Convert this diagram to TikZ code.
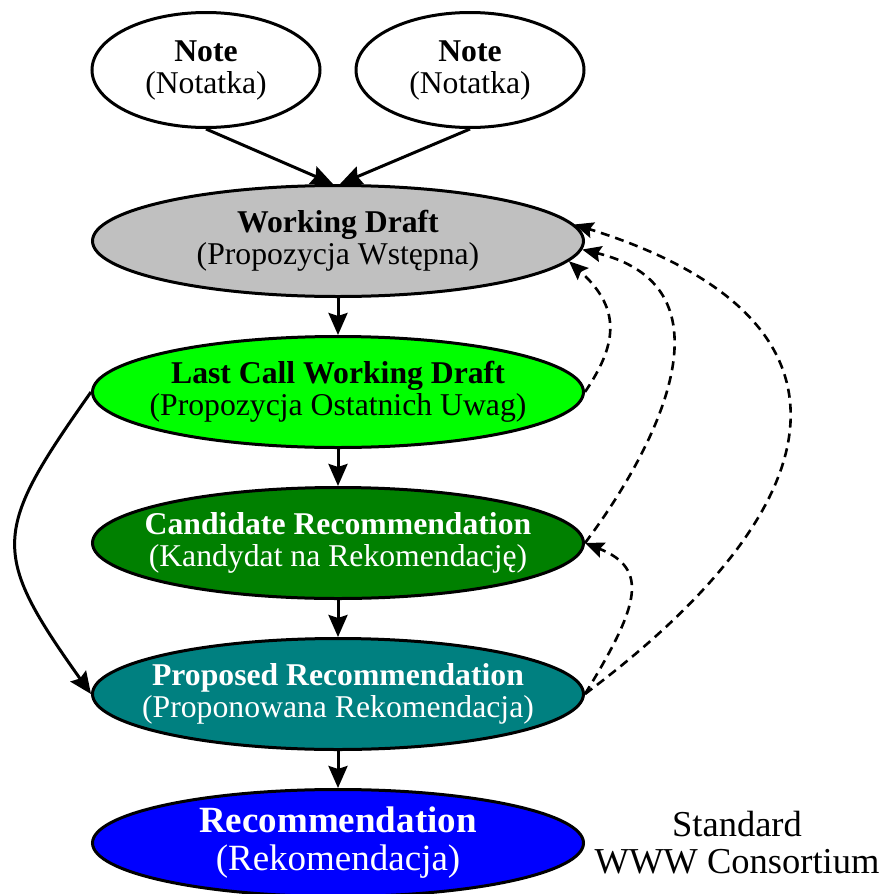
\documentclass[tikz,border=0pt]{standalone}
\usepackage{fontspec}
\setmainfont{Liberation Serif}
\usetikzlibrary{arrows.meta,shapes.geometric}
\definecolor{wdgray}{RGB}{192,192,192}
\definecolor{lcgreen}{RGB}{0,255,0}
\definecolor{cdgreen}{RGB}{0,128,0}
\definecolor{prteal}{RGB}{0,128,128}
\definecolor{recblue}{RGB}{0,0,255}
\begin{document}
\begin{tikzpicture}[x=1pt,y=-1pt,
  stage/.style={ellipse, draw, line width=3pt, inner xsep=-30pt, inner ysep=0pt, minimum width=491pt, minimum height=111pt, align=center, font=\fontsize{31.7}{32}\selectfont},
  notebox/.style={stage, minimum width=228pt, minimum height=115pt, fill=white},
  arr/.style={line width=3pt, -{Stealth[length=22pt,width=19pt,inset=3pt]}},
  darr/.style={line width=2.6pt, dash pattern=on 9pt off 6pt, -{Stealth[length=19pt,width=16pt,inset=3pt]}}]
\useasboundingbox (0,0) rectangle (884,894);
\node[notebox] (n1) at (206,70) {\textbf{Note}\\(Notatka)};
\node[notebox] (n2) at (470,70) {\textbf{Note}\\(Notatka)};
\node[stage, fill=wdgray] (wd) at (338,241) {\textbf{Working Draft}\\(Propozycja Wstępna)};
\node[stage, fill=lcgreen] (lc) at (338,392) {\textbf{Last Call Working Draft}\\(Propozycja Ostatnich Uwag)};
\node[stage, fill=cdgreen, text=white] (cd) at (338,543) {\textbf{Candidate Recommendation}\\(Kandydat na Rekomendację)};
\node[stage, fill=prteal, text=white] (pr) at (338,694) {\textbf{Proposed Recommendation}\\(Proponowana Rekomendacja)};
\node[stage, fill=recblue, text=white, minimum height=107pt, font=\fontsize{37}{38}\selectfont] (rec) at (338,843) {\textbf{Recommendation}\\(Rekomendacja)};
\node[align=center, font=\fontsize{36.5}{37}\selectfont] (std) at (737,843) {Standard\\WWW Consortium};

\draw[arr] (n1.south) -- (wd.95);
\draw[arr] (n2.south) -- (wd.88);
\draw[arr] (wd.south) -- (lc.north);
\draw[arr] (lc.south) -- (cd.north);
\draw[arr] (cd.south) -- (pr.north);
\draw[arr] (pr.south) -- (rec.north);
\draw[arr] (lc.west) .. controls (-8,532) and (-10,552) .. (pr.west);

\draw[darr] (lc.east) .. controls (616,346) and (623,310) .. (wd.-5.1);
\draw[darr] (cd.east) .. controls (647,461) and (745,289) .. (wd.-2.1);
\draw[darr] (pr.east) .. controls (852,494) and (865,315) .. (wd.4.4);
\draw[darr] (pr.east) .. controls (639,606) and (650,569) .. (cd.east);
\end{tikzpicture}
\end{document}
